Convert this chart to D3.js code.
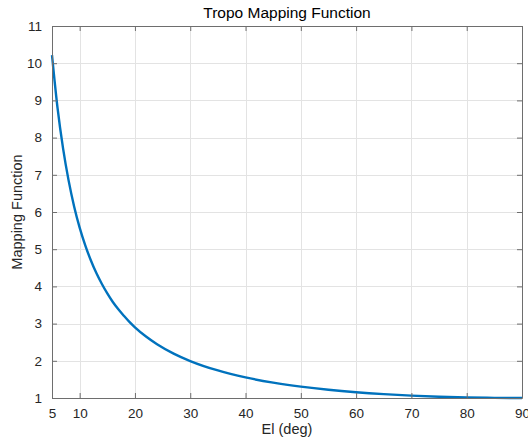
<!DOCTYPE html>
<html>
<head>
<meta charset="utf-8">
<style>
  body { margin: 0; background: #fff; }
  svg { display: block; font-family: "Liberation Sans", Arial, sans-serif; }
</style>
</head>
<body>
<div id="chart"></div>
<script src="https://cdn.jsdelivr.net/npm/d3@7"></script>
<script>
// elevation (deg) and mapping function values
const elev = [5, 6, 7, 8, 9, 10, 11, 12, 13, 14, 15, 16, 17, 18, 19, 20, 22, 24, 27, 30, 35, 40, 45, 50, 55, 60, 65, 70, 75, 80, 85, 90]
const mapping = [10.22, 8.80, 7.71, 6.85, 6.15, 5.58, 5.11, 4.71, 4.365, 4.07, 3.81, 3.58, 3.384, 3.21, 3.046, 2.90, 2.653, 2.446, 2.194, 1.994, 1.74, 1.553, 1.413, 1.305, 1.22, 1.154, 1.103, 1.064, 1.035, 1.015, 1.004, 1.0]
const xTicks = [5, 10, 20, 30, 40, 50, 60, 70, 80, 90]
const yTicks = [1, 2, 3, 4, 5, 6, 7, 8, 9, 10, 11]

const svgWidth = 528, svgHeight = 444
const margin = { left: 52, right: 6, top: 26, bottom: 46 }
const width = svgWidth - margin.left - margin.right
const height = svgHeight - margin.top - margin.bottom

const svg = d3.select('#chart')
  .append('svg')
  .attr('width', svgWidth)
  .attr('height', svgHeight)

const g = svg.append('g')
  .attr('transform', `translate(${margin.left},${margin.top})`)

const x = d3.scaleLinear().domain([5, 90]).range([0, width])
const y = d3.scaleLinear().domain([1, 11]).range([height, 0])

const axisColor = '#6e6e6e'
const gridColor = '#e3e3e3'

// grid
g.append('g')
  .selectAll('line')
  .data(xTicks)
  .join('line')
  .attr('x1', d => Math.round(x(d)) + 0.5)
  .attr('x2', d => Math.round(x(d)) + 0.5)
  .attr('y1', 0)
  .attr('y2', height)
  .attr('stroke', gridColor)

g.append('g')
  .selectAll('line')
  .data(yTicks)
  .join('line')
  .attr('y1', d => Math.round(y(d)) + 0.5)
  .attr('y2', d => Math.round(y(d)) + 0.5)
  .attr('x1', 0)
  .attr('x2', width)
  .attr('stroke', gridColor)

// curve
const line = d3.line()
  .x((d, i) => x(elev[i]))
  .y(d => y(d))
  .curve(d3.curveMonotoneX)

g.append('path')
  .datum(mapping)
  .attr('d', line)
  .attr('fill', 'none')
  .attr('stroke', '#0072bd')
  .attr('stroke-width', 2.4)
  .attr('stroke-linejoin', 'round')

// axes, ticks pointing inward, box on
function styleAxis(sel) {
  sel.select('.domain').attr('stroke', axisColor)
  sel.selectAll('.tick line').attr('stroke', axisColor)
  sel.selectAll('.tick text').attr('fill', '#262626').attr('font-size', 13.5)
    .attr('font-family', '"Liberation Sans", Arial, sans-serif')
}

g.append('g')
  .attr('transform', `translate(0,${height})`)
  .call(d3.axisBottom(x).tickValues(xTicks).tickSizeInner(-5).tickSizeOuter(0).tickPadding(10))
  .call(styleAxis)

g.append('g')
  .call(d3.axisTop(x).tickValues(xTicks).tickSizeInner(-5).tickSizeOuter(0).tickFormat(''))
  .call(styleAxis)

g.append('g')
  .call(d3.axisLeft(y).tickValues(yTicks).tickSizeInner(-5).tickSizeOuter(0).tickPadding(10))
  .call(styleAxis)

g.append('g')
  .attr('transform', `translate(${width},0)`)
  .call(d3.axisRight(y).tickValues(yTicks).tickSizeInner(-5).tickSizeOuter(0).tickFormat(''))
  .call(styleAxis)

// titles
svg.append('text')
  .attr('x', margin.left + width / 2)
  .attr('y', 18)
  .attr('text-anchor', 'middle')
  .attr('font-size', 15.5)
  .attr('fill', '#000')
  .text('Tropo Mapping Function')

svg.append('text')
  .attr('x', margin.left + width / 2)
  .attr('y', 434)
  .attr('text-anchor', 'middle')
  .attr('font-size', 14.5)
  .attr('fill', '#262626')
  .text('El (deg)')

svg.append('text')
  .attr('transform', `translate(22,${margin.top + height / 2}) rotate(-90)`)
  .attr('text-anchor', 'middle')
  .attr('font-size', 14.5)
  .attr('fill', '#262626')
  .text('Mapping Function')
</script>
</body>
</html>
